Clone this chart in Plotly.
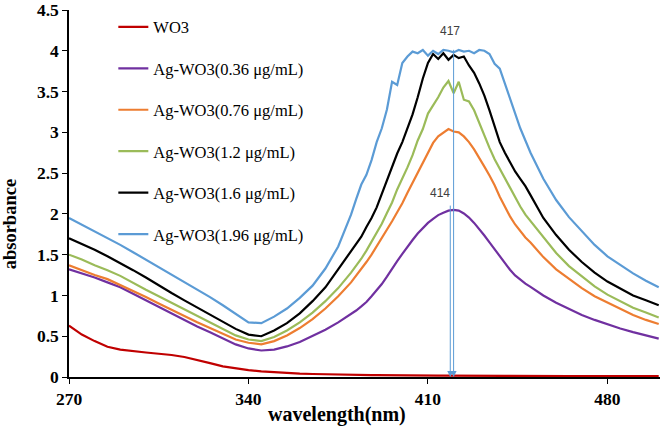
import plotly.graph_objects as go

wavelength = [270, 275, 280, 285, 290, 295, 300, 305, 310, 315, 320, 325, 330, 335, 340, 345,
              350, 355, 360, 365, 370, 375, 380,
              382, 384, 386, 388, 390, 392, 394, 396, 398, 400, 402, 404, 406, 408, 410, 412,
              414, 416, 418, 420, 422, 424, 426, 428, 430, 432, 434, 436, 438, 440, 442, 444,
              446, 448, 450,
              455, 460, 465, 470, 475, 480, 485, 490, 495, 500]

wo3 = [0.63, 0.52, 0.44, 0.37, 0.335, 0.315, 0.30, 0.285, 0.27, 0.245, 0.21, 0.17, 0.13, 0.105, 0.085, 0.07,
       0.058, 0.048, 0.042, 0.037, 0.032, 0.029, 0.026,
       0.025, 0.024, 0.024, 0.023, 0.023, 0.022, 0.022, 0.021, 0.021, 0.020, 0.020, 0.020, 0.019, 0.019, 0.019, 0.018,
       0.018, 0.018, 0.017, 0.017, 0.017, 0.017, 0.016, 0.016, 0.016, 0.016, 0.015, 0.015, 0.015, 0.015, 0.015, 0.014,
       0.014, 0.014, 0.014,
       0.013, 0.013, 0.012, 0.012, 0.012, 0.011, 0.011, 0.010, 0.010, 0.010]

ag_036 = [1.32, 1.27, 1.22, 1.16, 1.10, 1.02, 0.94, 0.86, 0.78, 0.70, 0.62, 0.55, 0.47, 0.40, 0.35, 0.325,
          0.335, 0.375, 0.43, 0.50, 0.58, 0.67, 0.77,
          0.815, 0.865, 0.92, 0.99, 1.06, 1.14, 1.23, 1.33, 1.42, 1.51, 1.60, 1.68, 1.76, 1.83, 1.89, 1.94,
          1.985, 2.015, 2.04, 2.05, 2.04, 2.005, 1.955, 1.89, 1.815, 1.735, 1.65, 1.565, 1.48, 1.395, 1.315, 1.245,
          1.19, 1.145, 1.105,
          1.00, 0.91, 0.83, 0.76, 0.70, 0.645, 0.595, 0.55, 0.51, 0.47]

ag_076 = [1.37, 1.31, 1.25, 1.20, 1.13, 1.05, 0.98, 0.90, 0.82, 0.74, 0.67, 0.60, 0.53, 0.46, 0.42, 0.40,
          0.44, 0.51, 0.60, 0.71, 0.84, 0.99, 1.16,
          1.24, 1.32, 1.41, 1.50, 1.60, 1.70, 1.80, 1.91, 2.02, 2.13, 2.26, 2.38, 2.50, 2.62, 2.76, 2.87,
          2.95, 3.00, 3.04, 3.01, 3.00, 2.95, 2.88, 2.79, 2.69, 2.58, 2.47, 2.35, 2.21, 2.09, 1.97, 1.87,
          1.79, 1.71, 1.65,
          1.47, 1.32, 1.20, 1.09, 0.99, 0.91, 0.84, 0.76, 0.70, 0.65]

ag_12 = [1.50, 1.44, 1.37, 1.31, 1.24, 1.15, 1.07, 0.99, 0.91, 0.82, 0.74, 0.66, 0.58, 0.51, 0.46, 0.44,
         0.49, 0.57, 0.67, 0.79, 0.93, 1.09, 1.28,
         1.36, 1.45, 1.55, 1.66, 1.77, 1.88, 2.01, 2.14, 2.30, 2.43, 2.57, 2.72, 2.90, 3.04, 3.23, 3.33,
         3.43, 3.55, 3.63, 3.48, 3.62, 3.40, 3.38, 3.27, 3.11, 2.96, 2.81, 2.67, 2.55, 2.43, 2.31, 2.20,
         2.09, 1.99, 1.91,
         1.72, 1.52, 1.36, 1.23, 1.11, 1.01, 0.93, 0.85, 0.79, 0.73]

ag_16 = [1.70, 1.63, 1.56, 1.48, 1.40, 1.31, 1.22, 1.12, 1.03, 0.94, 0.85, 0.76, 0.67, 0.59, 0.52, 0.50,
         0.57, 0.66, 0.78, 0.93, 1.10, 1.32, 1.55,
         1.64, 1.72, 1.84, 1.95, 2.08, 2.25, 2.40, 2.58, 2.74, 2.88, 3.04, 3.22, 3.43, 3.66, 3.85, 3.96,
         3.90, 3.97, 3.89, 3.95, 3.91, 3.93, 3.82, 3.73, 3.60, 3.45, 3.27, 3.07, 2.88, 2.75, 2.64, 2.52,
         2.43, 2.34, 2.23,
         1.95, 1.74, 1.56, 1.41, 1.28, 1.17, 1.08, 1.00, 0.94, 0.88]

ag_196 = [1.95, 1.87, 1.79, 1.71, 1.62, 1.53, 1.44, 1.35, 1.26, 1.16, 1.07, 0.98, 0.88, 0.78, 0.67, 0.66,
          0.74, 0.84, 0.97, 1.12, 1.33, 1.60, 1.99,
          2.18, 2.36, 2.48, 2.66, 2.88, 3.05, 3.28, 3.62, 3.58, 3.85, 3.93, 3.99, 3.97, 4.01, 3.94, 4.00,
          3.96, 4.01, 4.00, 3.98, 4.01, 3.99, 4.00, 3.97, 4.01, 4.00, 3.96, 3.84, 3.78, 3.60, 3.40, 3.22,
          3.05, 2.90, 2.75,
          2.43, 2.17, 1.96, 1.79, 1.62, 1.48, 1.37, 1.27, 1.18, 1.10]

series_names = ["WO3", "Ag-WO3(0.36 μg/mL)", "Ag-WO3(0.76 μg/mL)", "Ag-WO3(1.2 μg/mL)",
                "Ag-WO3(1.6 μg/mL)", "Ag-WO3(1.96 μg/mL)"]
series_values = [wo3, ag_036, ag_076, ag_12, ag_16, ag_196]
series_colors = ["#C00000", "#7030A0", "#ED7D31", "#9BBB59", "#000000", "#5B9BD5"]

x_ticks = [270, 340, 410, 480]
y_ticks = [0, 0.5, 1, 1.5, 2, 2.5, 3, 3.5, 4, 4.5]
y_tick_labels = ["0", "0.5", "1", "1.5", "2", "2.5", "3", "3.5", "4", "4.5"]

peak_labels = ["414", "417"]
peak_low = (418.7, 2.12)
peak_high = (420.0, 4.03)

serif = "Liberation Serif, Times New Roman, serif"

fig = go.Figure()
for i, (name, vals, col) in enumerate(zip(series_names, series_values, series_colors)):
    fig.add_trace(go.Scatter(x=wavelength, y=vals, mode="lines", name=name,
                             line=dict(color=col, width=2.2), legendgroup=str(i)))

# peak marker arrows
fig.add_annotation(x=peak_low[0], y=0, ax=peak_low[0], ay=peak_low[1], xref="x", yref="y",
                   axref="x", ayref="y", showarrow=True, arrowhead=2, arrowsize=1.2,
                   arrowwidth=1, arrowcolor="#5B9BD5", text="")
fig.add_annotation(x=peak_high[0], y=0, ax=peak_high[0], ay=peak_high[1], xref="x", yref="y",
                   axref="x", ayref="y", showarrow=True, arrowhead=2, arrowsize=1.2,
                   arrowwidth=1, arrowcolor="#5B9BD5", text="")
fig.add_annotation(x=peak_low[0] - 4, y=peak_low[1] + 0.02, text=peak_labels[0], showarrow=False,
                   yanchor="bottom", font=dict(family="Liberation Sans, Arial", size=12, color="#404040"))
fig.add_annotation(x=peak_high[0] - 1.5, y=peak_high[1] + 0.1, text=peak_labels[1], showarrow=False,
                   yanchor="bottom", font=dict(family="Liberation Sans, Arial", size=12, color="#404040"))

# axis titles
fig.add_annotation(x=0.453, y=-0.103, xref="paper", yref="paper", text="wavelength(nm)",
                   showarrow=False, xanchor="center", yanchor="middle",
                   font=dict(family=serif, size=20, color="black", weight="bold"))
fig.add_annotation(x=-0.0998, y=0.416, xref="paper", yref="paper", text="absorbance",
                   showarrow=False, textangle=-90, xanchor="center", yanchor="middle",
                   font=dict(family=serif, size=18.5, color="black", weight="bold"))

fig.update_layout(
    width=660, height=427,
    margin=dict(l=69, r=0, t=7, b=50),
    paper_bgcolor="white", plot_bgcolor="white",
    showlegend=True,
    legend=dict(x=0.075, y=1.001, xanchor="left", yanchor="top", tracegroupgap=17, maxheight=420,
                font=dict(family=serif, size=16.5, color="black"), bgcolor="rgba(0,0,0,0)"),
    xaxis=dict(range=[270, 500.5], tickmode="array", tickvals=x_ticks, showgrid=False, zeroline=False,
               showline=True, linecolor="black", linewidth=1.5, ticks="outside", ticklen=5,
               tickcolor="black", ticklabeloverflow="allow",
               tickfont=dict(family=serif, size=17.5, color="black", weight="bold")),
    yaxis=dict(range=[0, 4.5], tickmode="array", tickvals=y_ticks, ticktext=y_tick_labels,
               showgrid=False, zeroline=False, ticklabeloverflow="allow",
               showline=True, linecolor="black", linewidth=1.5, ticks="outside", ticklen=5,
               tickcolor="black", tickfont=dict(family=serif, size=17.5, color="black", weight="bold")),
)

fig.write_html("out.html", config={"displayModeBar": False},
               post_script="document.body.style.margin='0';")
